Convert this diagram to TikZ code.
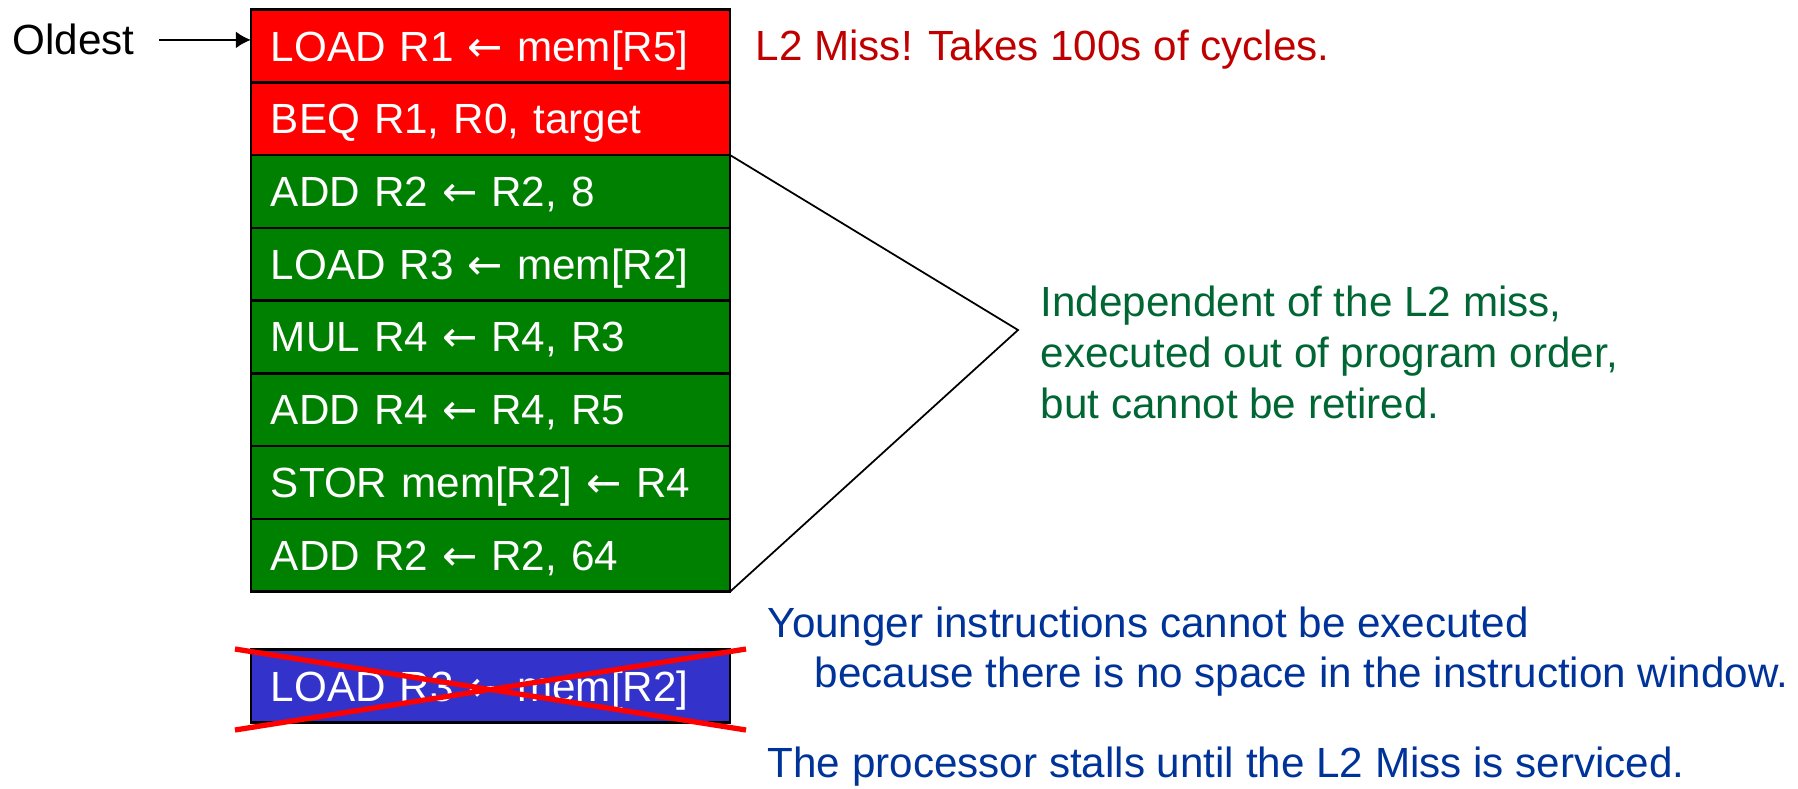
\documentclass[tikz,border=0pt]{standalone}
\usepackage{fontspec}
\setmainfont{Liberation Sans}
\newfontfamily\arrowfont{DejaVu Sans}
\newcommand{\la}{{\arrowfont ←}}
\usetikzlibrary{positioning,arrows.meta}
\definecolor{missred}{RGB}{255,0,0}
\definecolor{okgreen}{RGB}{0,128,0}
\definecolor{stallblue}{RGB}{51,51,204}
\definecolor{redtext}{RGB}{192,0,0}
\definecolor{greentext}{RGB}{0,102,51}
\definecolor{bluetext}{RGB}{0,51,153}
\tikzset{
  instr/.style={draw=black,line width=0.7pt,text=white,minimum width=4.79cm,minimum height=0.727cm,
    text width=4.39cm,inner xsep=0.2cm,inner ysep=0pt,outer sep=0pt,align=left,text height=0.3cm,text depth=0pt},
  note/.style={anchor=base west,inner sep=0pt,align=left},
}
\begin{document}
\begin{tikzpicture}[>={Latex[length=0.15cm,width=0.17cm]},x=0.01cm,y=-0.01cm,font=\fontsize{12}{14.4}\selectfont]
\useasboundingbox (0,0) rectangle (1798,788);
% instruction window
\node[instr,fill=missred] (r1) at (490.5,46) {LOAD R1 \la{} mem[R5]};
\node[instr,fill=missred,below=0pt of r1] (r2) {BEQ R1, R0, target};
\node[instr,fill=okgreen,below=0pt of r2] (r3) {ADD R2 \la{} R2, 8};
\node[instr,fill=okgreen,below=0pt of r3] (r4) {LOAD R3 \la{} mem[R2]};
\node[instr,fill=okgreen,below=0pt of r4] (r5) {MUL R4 \la{} R4, R3};
\node[instr,fill=okgreen,below=0pt of r5] (r6) {ADD R4 \la{} R4, R5};
\node[instr,fill=okgreen,below=0pt of r6] (r7) {STOR mem[R2] \la{} R4};
\node[instr,fill=okgreen,below=0pt of r7] (r8) {ADD R2 \la{} R2, 64};
\node[instr,fill=stallblue] (w) at (490.5,686) {LOAD R3 \la{} mem[R2]};
% oldest pointer
\node[note] (old) at (12,55) {Oldest};
\draw[->,line width=0.6pt,shorten <=0.24cm] (old.east) -- (old.east -| r1.west);
% notes
\node[note,text=redtext] (miss) at (755,61) {L2 Miss! Takes 100s of cycles.};
\coordinate (apex) at (1018,330);
\draw[line width=0.5pt] (r3.north east) -- (apex) -- (r8.south east);
\node[note,text=greentext] (indep) at (1040,418) {Independent of the L2 miss,\\executed out of program order,\\but cannot be retired.};
% crossed out
\coordinate (xa) at (235,649);
\coordinate (xb) at (746,730);
\coordinate (xc) at (235,730);
\coordinate (xd) at (746,649);
\draw[red,line width=1.5pt] (xa) -- (xb) (xc) -- (xd);
\node[note,text=bluetext] (young) at (767,637) {Younger instructions cannot be executed};
\node[note,text=bluetext] (space) at (814,687) {because there is no space in the instruction window.};
\node[note,text=bluetext] (stall) at (767,777) {The processor stalls until the L2 Miss is serviced.};
\end{tikzpicture}
\end{document}
